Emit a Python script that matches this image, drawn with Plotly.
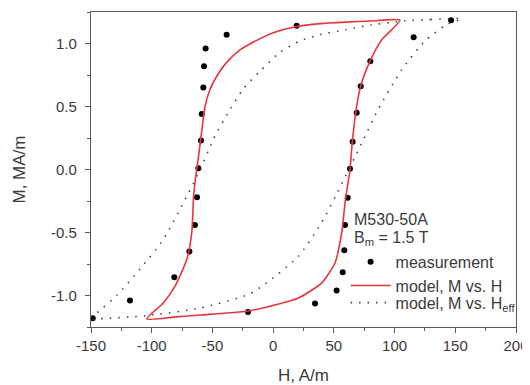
import plotly.graph_objects as go

# Model, M vs H (red loop): upper (descending) branch then lower (ascending) branch
model_H = [104.5, 80, 60, 38.6, 19.4, 0, -13.5, -27.3, -38.3, -46.5, -52, -56.1, -59, -61.5, -63, -65.5, -67, -71, -81, -90.5, -104,
           -80, -60, -21.8, -2.6, 20.7, 40, 51, 56.5, 59.5, 63.3, 65.2, 68, 72, 79.8, 89.4, 104.5]
model_M = [1.185, 1.178, 1.17, 1.158, 1.135, 1.085, 1.025, 0.95, 0.85, 0.74, 0.635, 0.50, 0.29, 0.1, 0.0, -0.21, -0.5, -0.71, -0.93, -1.06, -1.185,
           -1.17, -1.155, -1.125, -1.085, -1.02, -0.9, -0.74, -0.5, -0.24, 0.0, 0.22, 0.45, 0.66, 0.86, 1.03, 1.185]

# Model, M vs Heff (dotted loop)
eff_H = [155, 130, 108.6, 80, 60, 38.6, 22, 5.6, -10.8, -24.6, -35.5, -49.3, -60, -71, -90.5, -109.6, -128.8, -145.3, -152,
         -142.6, -104, -60, -20, -6.7, 20.7, 40, 52, 73, 86.6, 105.8, 125, 142.9, 155]
eff_M = [1.196, 1.19, 1.18, 1.145, 1.11, 1.07, 1.02, 0.93, 0.78, 0.64, 0.476, 0.24, 0.0, -0.21, -0.556, -0.79, -1.0, -1.14, -1.19,
         -1.185, -1.16, -1.10, -0.99, -0.91, -0.69, -0.42, -0.2, 0.21, 0.48, 0.79, 1.02, 1.15, 1.196]

# Measurement points
meas_H = [-38.3, -55.6, -56.9, -57.5, -58.8, -59.4, -61.6, -62.7, -64.4, -69, -81.4, -117.9, -148.6, -20.7,
          34.5, 52.3, 57.3, 58.6, 59.2, 61.4, 63.3, 65.5, 68.8, 72.1, 80, 115.7, 146.5, 19.4]
meas_M = [1.07, 0.96, 0.82, 0.65, 0.44, 0.23, 0.01, -0.22, -0.44, -0.65, -0.855, -1.04, -1.18, -1.13,
          -1.063, -0.96, -0.815, -0.64, -0.44, -0.225, 0.005, 0.22, 0.45, 0.66, 0.86, 1.05, 1.185, 1.14]

x_ticks = [-150, -100, -50, 0, 50, 100, 150, 200]
y_ticks = [-1.0, -0.5, 0.0, 0.5, 1.0]

FONT = "Liberation Sans, Arial, sans-serif"
TXT = "#3a3a3a"
AX = "#5a5a5a"

fig = go.Figure()
fig.add_trace(go.Scatter(x=meas_H, y=meas_M, mode="markers", name="measurement",
                         marker=dict(color="black", size=6), legend="legend"))
fig.add_trace(go.Scatter(x=model_H, y=model_M, mode="lines", name="model, M vs. H",
                         line=dict(color="#e8373c", width=1.6, shape="spline", smoothing=0.6), legend="legend"))
fig.add_trace(go.Scatter(x=eff_H, y=eff_M, mode="lines", name="model, M vs. H<sub>eff</sub>",
                         line=dict(color="#444444", width=1.6, dash="1.5px,7px", shape="spline", smoothing=0.6),
                         legend="legend2"))

axis_common = dict(showline=True, linecolor=AX, linewidth=1.2, mirror=True, showgrid=False, zeroline=False,
                   ticks="outside", ticklen=5, tickcolor=AX, tickwidth=1.2,
                   tickfont=dict(family=FONT, size=15, color=TXT))

fig.update_xaxes(range=[-150, 200], tickvals=x_ticks, ticktext=[str(v) for v in x_ticks],
                 minor=dict(ticks="outside", ticklen=3, tickcolor=AX, dtick=25, tick0=0),
                 automargin=False,
                 title=dict(text="H, A/m", font=dict(family=FONT, size=17, color=TXT), standoff=17),
                 **axis_common)
fig.update_yaxes(range=[-1.25, 1.25], tickvals=y_ticks, ticktext=[f"{v:.1f}" for v in y_ticks],
                 minor=dict(ticks="outside", ticklen=3, tickcolor=AX, dtick=0.25, tick0=0),
                 ticklabelstandoff=5,
                 title=dict(text="M, MA/m", font=dict(family=FONT, size=17, color=TXT), standoff=21),
                 **axis_common)

fig.add_annotation(text="M530-50A", xref="paper", yref="paper", x=0.614, y=0.340,
                   xanchor="left", yanchor="middle", showarrow=False,
                   font=dict(family=FONT, size=16, color=TXT))
fig.add_annotation(text="B<sub>m</sub> = 1.5 T", xref="paper", yref="paper", x=0.614, y=0.282,
                   xanchor="left", yanchor="middle", showarrow=False,
                   font=dict(family=FONT, size=16, color=TXT))

legend_style = dict(xanchor="left", yanchor="top", bgcolor="rgba(0,0,0,0)",
                    font=dict(family=FONT, size=16, color=TXT), itemwidth=40, tracegroupgap=0)

# The page body has an 8px default margin, so the figure is sized to fit the 530x385 window.
fig.update_layout(
    width=522, height=377,
    margin=dict(l=83, r=14, t=4, b=58),
    paper_bgcolor="white", plot_bgcolor="white",
    showlegend=True,
    legend=dict(x=0.599, y=0.261, **legend_style),
    legend2=dict(x=0.599, y=0.131, **legend_style),
)

fig.write_html("out.html")
